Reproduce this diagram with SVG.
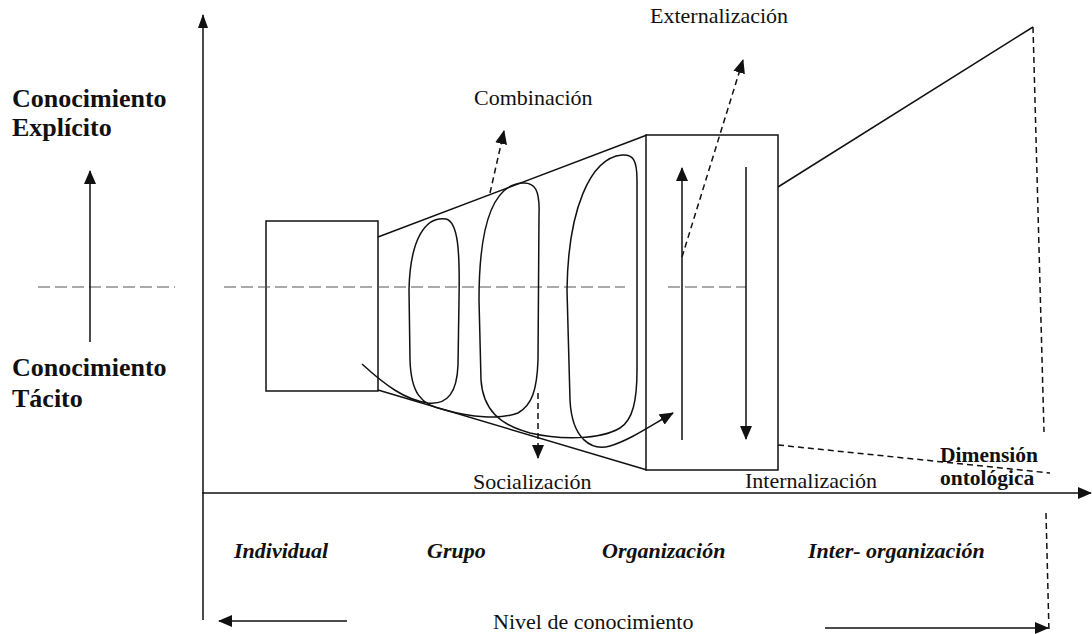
<svg xmlns="http://www.w3.org/2000/svg" width="1092" height="634" viewBox="0 0 1092 634">
<defs>
<style>
.ln{fill:none;stroke:#111;stroke-width:1.5}
.dk{fill:none;stroke:#111;stroke-width:1.5;stroke-dasharray:6 4}
.gd{fill:none;stroke:#555;stroke-width:1.2;stroke-dasharray:12 5}
.box{fill:#fff;stroke:#111;stroke-width:1.5}
.t{font-family:"Liberation Serif","Times New Roman",serif;font-size:22px;fill:#111}
.b{font-family:"Liberation Serif","Times New Roman",serif;font-weight:bold;font-size:26px;fill:#111}
.bs{font-family:"Liberation Serif","Times New Roman",serif;font-weight:bold;font-size:21.5px;fill:#111}
.bi{font-family:"Liberation Serif","Times New Roman",serif;font-weight:bold;font-style:italic;font-size:22px;fill:#111}
</style>
<marker id="ah" viewBox="0 0 14 12" refX="13" refY="6" markerWidth="14" markerHeight="12" markerUnits="userSpaceOnUse" orient="auto">
<path d="M0,0 L14,6 L0,12 Z" fill="#111"/>
</marker>
<marker id="ahs" viewBox="0 0 14 10" refX="13" refY="5" markerWidth="14" markerHeight="10" markerUnits="userSpaceOnUse" orient="auto">
<path d="M0,0 L14,5 L0,10 Z" fill="#111"/>
</marker>
</defs>
<rect width="1092" height="634" fill="#fff"/>

<g id="axes">
<line class="ln" x1="203" y1="620" x2="203" y2="15" marker-end="url(#ahs)"/>
<line class="ln" x1="202" y1="493" x2="1091" y2="493" marker-end="url(#ah)"/>
</g>

<g id="individual">
<rect class="box" x="266" y="221" width="112" height="170"/>
</g>

<g id="grupo">
<path class="ln" d="M378,237 L647,135 M378,390 L647,470"/>
</g>

<g id="organizacion">
<rect class="box" x="646" y="135" width="132" height="335"/>
</g>

<g id="inter-organizacion">
<path class="ln" d="M778,187 L1033,27"/>
<path class="dk" d="M1033,27 L1044,432"/>
<path class="dk" d="M778,445 L1050,473"/>
<path class="dk" d="M1046,513 L1049,632"/>
</g>

<g id="guides">
<path class="gd" d="M38,287 L175,287"/>
<path class="gd" d="M224,287 L625,287"/>
<path class="gd" d="M668,287 L746,287"/>
</g>

<g id="connectors">
<line class="ln" x1="90" y1="342" x2="90" y2="171" marker-end="url(#ah)"/>
<line class="ln" x1="347" y1="621" x2="219" y2="621" marker-end="url(#ah)"/>
<line class="ln" x1="825" y1="628" x2="1048" y2="628" marker-end="url(#ah)"/>
<line class="ln" x1="682" y1="440" x2="682" y2="168" marker-end="url(#ah)"/>
<line class="ln" x1="746" y1="167" x2="746" y2="439" marker-end="url(#ah)"/>
<line class="dk" x1="490" y1="193" x2="504" y2="131" marker-end="url(#ah)"/>
<line class="dk" x1="682" y1="257" x2="743" y2="60" marker-end="url(#ah)"/>
<line class="dk" x1="538" y1="393" x2="538" y2="458" marker-end="url(#ah)"/>
<path class="ln" marker-end="url(#ah)" d="M362,364 C385,385 405,400 428,403 C448,405 457,392 458,365 L459,300 C460,250 458,222 446,219 C425,216 410,240 409,290 L410,360 C411,392 420,405 445,410 C470,417 500,420 518,413 C532,405 537,390 538,360 L539,215 C540,190 535,182 522,183 C495,185 479,220 479,300 L481,380 C483,410 500,425 530,433 C560,440 600,440 620,428 C633,420 637,400 637,370 L637,180 C637,160 633,154 622,155 C590,158 568,210 567,290 L570,400 C572,440 592,451 610,446 C630,440 650,426 673,413"/>
</g>

<g id="labels">
<text class="b" x="12" y="107">Conocimiento</text>
<text class="b" x="12" y="136">Explícito</text>
<text class="b" x="12" y="376">Conocimiento</text>
<text class="b" x="12" y="407">Tácito</text>
<text class="t" x="474" y="105">Combinación</text>
<text class="t" x="650" y="23">Externalización</text>
<text class="t" x="473" y="489">Socialización</text>
<text class="t" x="745" y="488">Internalización</text>
<text class="bs" x="940" y="462">Dimensión</text>
<text class="bs" x="940" y="485">ontológica</text>
<text class="bi" x="234" y="558">Individual</text>
<text class="bi" x="427" y="558">Grupo</text>
<text class="bi" x="602" y="558">Organización</text>
<text class="bi" x="808" y="558">Inter- organización</text>
<text class="t" x="493" y="629">Nivel de conocimiento</text>
</g>
</svg>
